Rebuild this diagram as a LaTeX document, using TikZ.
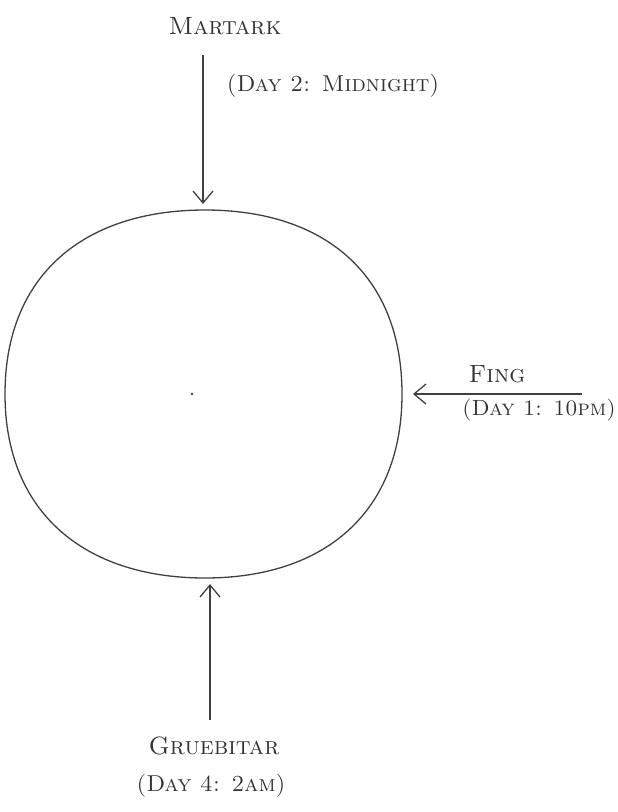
\documentclass[tikz,border=0pt]{standalone}
\usetikzlibrary{arrows.meta}
\begin{document}
\begin{tikzpicture}[x=1pt,y=-1pt,
  ink/.style={draw=black!75,line width=1.3pt},
  arr/.style={ink,-{Straight Barb[length=12pt,width=20pt,line width=1.3pt]}},
  lbl/.style={font=\fontsize{25}{28}\selectfont\scshape,text=black!80,inner sep=0pt},
  daylbl/.style={lbl,font=\fontsize{23}{26}\selectfont\scshape}]
\useasboundingbox (0,0) rectangle (618,812);
% planet
\coordinate (c) at (203,394);
\draw[ink] (5,394) .. controls (5,275) and (84,210) .. (205,210)
  .. controls (325,210) and (402,275) .. (402,394)
  .. controls (402,512) and (325,578) .. (205,578)
  .. controls (84,578) and (5,512) .. (5,394) -- cycle;
\fill[black!75] (192,394) circle (1.4pt);
% labels
\node[lbl] (mar) at (225,26) {Martark};
\node[daylbl] (mard) at (333,86) {(Day 2: Midnight)};
\node[lbl] (fing) at (497,374) {Fing};
\node[daylbl,font=\fontsize{22}{25}\selectfont\scshape] (fingd) at (539,410) {(Day 1: 10pm)};
\node[lbl] (gru) at (214,746) {Gruebitar};
\node[daylbl] (grud) at (211,786) {(Day 4: 2am)};
% arrows
\coordinate (t0) at (203,55); \coordinate (t1) at (203,204);
\coordinate (r0) at (582,394); \coordinate (r1) at (413,394);
\coordinate (b0) at (210,720); \coordinate (b1) at (210,584);
\draw[arr] (t0) -- (t1);
\draw[arr] (r0) -- (r1);
\draw[arr] (b0) -- (b1);
\end{tikzpicture}
\end{document}
